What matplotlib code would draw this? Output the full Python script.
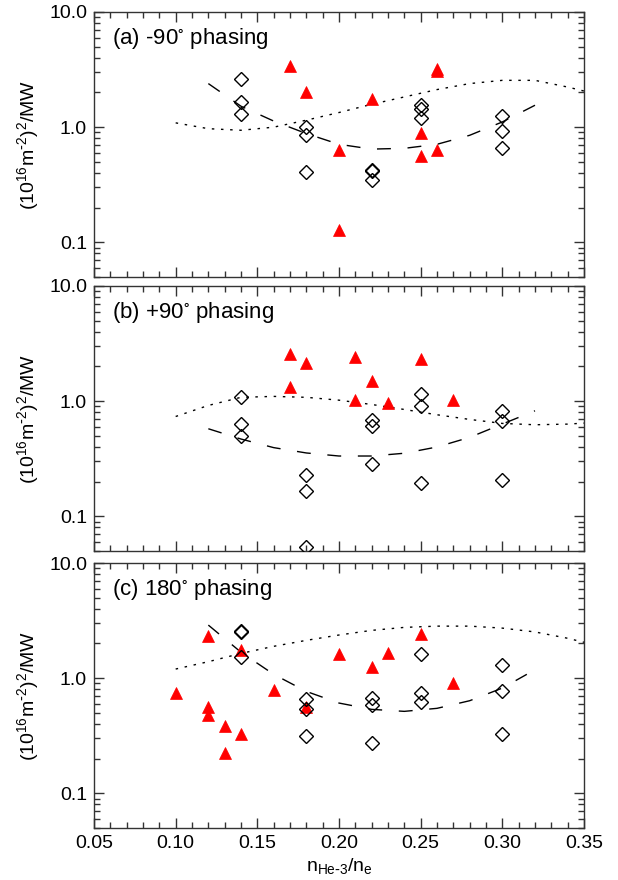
import matplotlib
matplotlib.use('Agg')
import matplotlib.pyplot as plt
from matplotlib.ticker import FixedLocator, FixedFormatter, NullFormatter, MultipleLocator

plt.rcParams['font.family'] = ['Liberation Sans', 'DejaVu Sans']
plt.rcParams['mathtext.default'] = 'regular'

# ---------------- data ----------------
titles = [r'(a) -90$^{\circ}$ phasing', r'(b) +90$^{\circ}$ phasing', r'(c) 180$^{\circ}$ phasing']

# Panel (a)
a_dia_x = [0.14, 0.14, 0.14, 0.18, 0.18, 0.18, 0.22, 0.22, 0.22, 0.25, 0.25, 0.25, 0.30, 0.30, 0.30]
a_dia_y = [2.62, 1.67, 1.31, 1.00, 0.85, 0.41, 0.425, 0.415, 0.35, 1.57, 1.44, 1.21, 1.24, 0.92, 0.66]
a_tri_x = [0.17, 0.18, 0.20, 0.20, 0.22, 0.25, 0.25, 0.26, 0.26, 0.26]
a_tri_y = [3.41, 2.03, 0.63, 0.127, 1.77, 0.89, 0.56, 3.20, 3.05, 0.63]
a_dash_x = [0.12, 0.14, 0.16, 0.18, 0.20, 0.22, 0.24, 0.26, 0.28, 0.30, 0.32]
a_dash_y = [2.39, 1.52, 1.13, 0.88, 0.71, 0.645, 0.655, 0.71, 0.85, 1.11, 1.55]
a_dot_x = [0.10, 0.12, 0.14, 0.16, 0.18, 0.20, 0.22, 0.24, 0.26, 0.28, 0.30, 0.32, 0.34, 0.35]
a_dot_y = [1.09, 0.97, 0.94, 1.00, 1.15, 1.34, 1.58, 1.83, 2.12, 2.39, 2.55, 2.55, 2.23, 2.06]

# Panel (b)
b_dia_x = [0.14, 0.14, 0.14, 0.18, 0.18, 0.18, 0.22, 0.22, 0.22, 0.25, 0.25, 0.25, 0.30, 0.30, 0.30]
b_dia_y = [1.08, 0.63, 0.50, 0.229, 0.166, 0.054, 0.69, 0.61, 0.285, 1.16, 0.90, 0.194, 0.82, 0.67, 0.207]
b_tri_x = [0.17, 0.17, 0.18, 0.21, 0.21, 0.22, 0.23, 0.25, 0.27]
b_tri_y = [2.55, 1.33, 2.13, 2.42, 1.03, 1.50, 0.955, 2.34, 1.03]
b_dash_x = [0.12, 0.14, 0.16, 0.18, 0.20, 0.22, 0.24, 0.26, 0.28, 0.30, 0.32]
b_dash_y = [0.576, 0.469, 0.395, 0.355, 0.334, 0.334, 0.353, 0.400, 0.485, 0.633, 0.825]
b_dot_x = [0.10, 0.12, 0.14, 0.16, 0.18, 0.20, 0.22, 0.24, 0.26, 0.28, 0.30, 0.32, 0.34, 0.35]
b_dot_y = [0.736, 0.918, 1.08, 1.10, 1.08, 1.02, 0.936, 0.847, 0.762, 0.694, 0.641, 0.624, 0.632, 0.645]

# Panel (c)
c_dia_x = [0.14, 0.14, 0.14, 0.18, 0.18, 0.18, 0.22, 0.22, 0.22, 0.25, 0.25, 0.25, 0.30, 0.30, 0.30]
c_dia_y = [2.55, 2.50, 1.52, 0.66, 0.54, 0.315, 0.67, 0.58, 0.272, 1.61, 0.74, 0.62, 1.31, 0.77, 0.33]
c_tri_x = [0.10, 0.12, 0.12, 0.12, 0.13, 0.13, 0.14, 0.14, 0.16, 0.18, 0.20, 0.22, 0.23, 0.25, 0.27]
c_tri_y = [0.74, 2.34, 0.565, 0.48, 0.385, 0.225, 1.75, 0.33, 0.79, 0.56, 1.63, 1.25, 1.64, 2.40, 0.90]
c_dash_x = [0.12, 0.14, 0.16, 0.18, 0.20, 0.22, 0.24, 0.26, 0.28, 0.30, 0.315]
c_dash_y = [2.89, 1.68, 1.08, 0.767, 0.608, 0.536, 0.515, 0.547, 0.637, 0.820, 1.08]
c_dot_x = [0.10, 0.12, 0.14, 0.16, 0.18, 0.20, 0.22, 0.24, 0.26, 0.28, 0.30, 0.32, 0.34, 0.35]
c_dot_y = [1.20, 1.39, 1.64, 1.89, 2.13, 2.37, 2.60, 2.76, 2.83, 2.83, 2.72, 2.52, 2.22, 2.05]

y_major = [0.1, 1.0, 10.0]
y_major_labels = ['0.1', '1.0', '10.0']
x_major = [0.05, 0.10, 0.15, 0.20, 0.25, 0.30, 0.35]
x_major_labels = ['0.05', '0.10', '0.15', '0.20', '0.25', '0.30', '0.35']

panels = [
    (a_dia_x, a_dia_y, a_tri_x, a_tri_y, a_dash_x, a_dash_y, a_dot_x, a_dot_y),
    (b_dia_x, b_dia_y, b_tri_x, b_tri_y, b_dash_x, b_dash_y, b_dot_x, b_dot_y),
    (c_dia_x, c_dia_y, c_tri_x, c_tri_y, c_dash_x, c_dash_y, c_dot_x, c_dot_y),
]

# ---------------- figure ----------------
W, H = 618, 880
fig = plt.figure(figsize=(W / 100, H / 100), dpi=100)
left, right = 94, 584
tops = [12, 286, 563]
ph = 265

minor_y = [m * 10.0 ** e for e in (-2, -1, 0) for m in range(2, 10)]
minor_y = [v for v in minor_y if 0.05 <= v <= 10]

for i, (top, data, title) in enumerate(zip(tops, panels, titles)):
    dx, dy, tx, ty, lx, ly, ox, oy = data
    ax = fig.add_axes([left / W, 1 - (top + ph) / H, (right - left) / W, ph / H])
    ax.set_yscale('log')
    ax.set_xlim(0.05, 0.35)
    ax.set_ylim(0.05, 10.0)

    ax.plot(ox, oy, color='black', lw=1.0, linestyle=(0, (1.8, 4.8)), zorder=2)
    ax.plot(lx, ly, color='black', lw=1.0, linestyle=(0, (10, 12)), zorder=2)
    ax.plot(tx, ty, linestyle='none', marker='^', ms=8.8, mfc='red', mec='red',
            mew=0.5, zorder=3)
    ax.plot(dx, dy, linestyle='none', marker='D', ms=7.2, mfc='none', mec='black',
            mew=1.0, zorder=4)

    ax.text(0.037, 0.90, title, transform=ax.transAxes, fontsize=16,
            ha='left', va='center')

    ax.yaxis.set_major_locator(FixedLocator(y_major))
    ax.yaxis.set_major_formatter(FixedFormatter(y_major_labels))
    ax.yaxis.set_minor_locator(FixedLocator(minor_y))
    ax.yaxis.set_minor_formatter(NullFormatter())
    ax.xaxis.set_major_locator(FixedLocator(x_major))
    ax.xaxis.set_minor_locator(MultipleLocator(0.01))
    if i == 2:
        ax.xaxis.set_major_formatter(FixedFormatter(x_major_labels))
        ax.set_xlabel(r'n$_{He\text{-}3}$/n$_e$', fontsize=14, labelpad=3)
    else:
        ax.xaxis.set_major_formatter(NullFormatter())

    ax.tick_params(which='both', direction='in', top=True, right=True,
                   labelsize=14, width=1.0, color='#333333')
    ax.tick_params(which='major', length=7.2, pad=5)
    ax.tick_params(which='minor', length=4.3)
    for s in ax.spines.values():
        s.set_linewidth(1.0)
        s.set_color('#333333')

    ax.set_ylabel(r'(10$^{16}$m$^{\text{-}2}$)$^{2}$/MW', fontsize=14, labelpad=6)

fig.savefig('out.png', dpi=100)
